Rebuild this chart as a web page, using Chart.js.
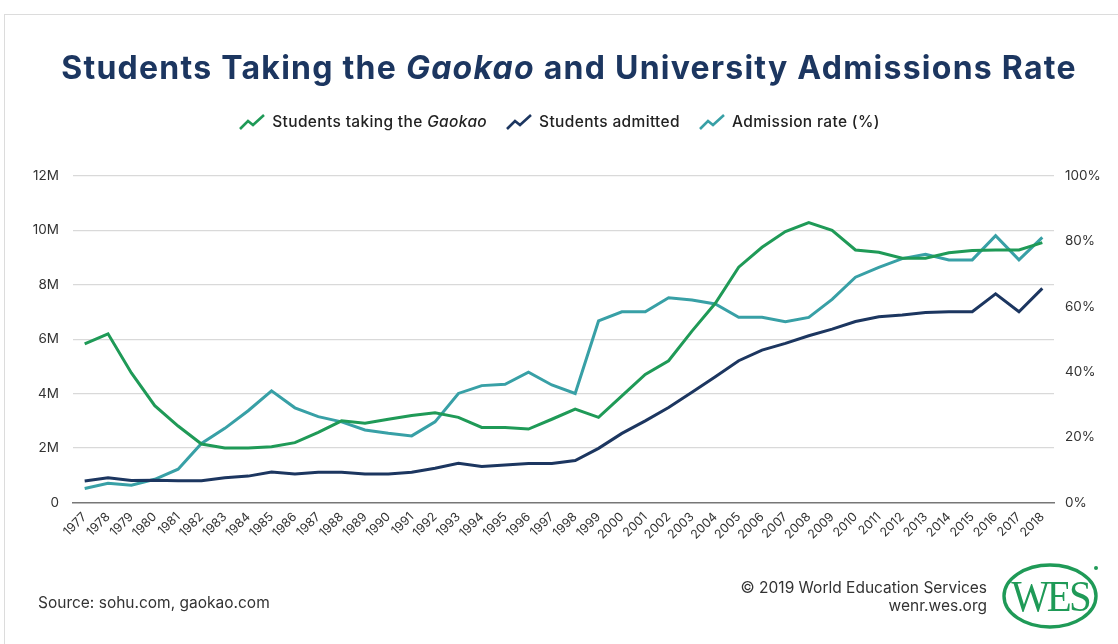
<!DOCTYPE html>
<html><head><meta charset="utf-8">
<script src="https://cdn.jsdelivr.net/npm/chart.js@4.4.1/dist/chart.umd.min.js"></script>
<style>
html,body{margin:0;padding:0;}
body{width:1118px;height:644px;background:#fff;position:relative;overflow:hidden;font-family:Inter,"Noto Sans",sans-serif;}
#frame{position:absolute;left:4px;top:14px;width:1200px;height:700px;border-left:1px solid #dcdcdc;border-top:1px solid #dcdcdc;}
#cv{position:absolute;left:0;top:0;}
#title{position:absolute;top:48px;left:10px;width:1118px;text-align:center;font-weight:700;font-size:32px;color:#1c3660;white-space:nowrap;letter-spacing:1.25px;}
#legend{position:absolute;top:112px;left:0;width:1118px;display:flex;justify-content:center;align-items:center;font-size:15.5px;font-weight:500;color:#222;white-space:nowrap;letter-spacing:0.35px;}
#legend .it{display:flex;align-items:center;margin:0 9px;}
#legend svg{margin-right:6px;}
.foot{position:absolute;font-size:15.5px;color:#333;white-space:nowrap;}
</style></head>
<body>
<div id="frame"></div>
<canvas id="cv" width="1118" height="644"></canvas>
<div id="title">Students Taking the <i>Gaokao</i> and University Admissions Rate</div>
<div id="legend"></div>
<div class="foot" style="left:38px;top:593px;">Source: sohu.com, gaokao.com</div>
<div class="foot" style="right:131px;top:579px;text-align:right;line-height:18px;">© 2019 World Education Services<br>wenr.wes.org</div>
<svg style="position:absolute;left:1000px;top:562px;" width="104" height="68" viewBox="0 0 104 68">
  <ellipse cx="50" cy="34" rx="46" ry="31" fill="none" stroke="#1f9a57" stroke-width="3.4"/>
  <text x="50" y="49" text-anchor="middle" font-family="Liberation Serif, DejaVu Serif, serif" font-size="43" fill="#1f9a57" letter-spacing="-3" transform="translate(50 0) scale(0.95 1.05) translate(-50 -2)">WES</text>
  <circle cx="96" cy="6" r="2" fill="#1f9a57"/>
</svg>
<script>
const years = ['1977','1978','1979','1980','1981','1982','1983','1984','1985','1986','1987','1988','1989','1990','1991','1992','1993','1994','1995','1996','1997','1998','1999','2000','2001','2002','2003','2004','2005','2006','2007','2008','2009','2010','2011','2012','2013','2014','2015','2016','2017','2018'];
// millions
const takingGaokao = [5.83,6.2,4.76,3.56,2.81,2.15,2.0,2.0,2.05,2.2,2.58,3.0,2.91,3.06,3.2,3.3,3.13,2.76,2.76,2.7,3.06,3.43,3.13,3.92,4.71,5.21,6.3,7.32,8.65,9.38,9.96,10.29,10.0,9.28,9.2,8.98,8.98,9.18,9.26,9.28,9.28,9.55];
const studentsAdmitted = [0.79,0.91,0.81,0.82,0.8,0.8,0.91,0.97,1.12,1.05,1.11,1.11,1.05,1.05,1.11,1.26,1.44,1.32,1.38,1.43,1.43,1.54,1.99,2.54,3.0,3.49,4.05,4.62,5.21,5.6,5.85,6.13,6.37,6.65,6.83,6.89,6.98,7.01,7.01,7.67,7.01,7.87];
// percent
const admissionRate = [4.3,5.9,5.3,7.1,10.2,18.1,22.7,28.1,34.2,29.0,26.3,24.7,22.2,21.2,20.4,24.7,33.4,35.8,36.2,39.9,36.0,33.4,55.6,58.4,58.4,62.7,62.0,60.8,56.7,56.7,55.4,56.7,62.2,69.0,72.0,74.7,76.0,74.3,74.3,81.7,74.3,81.2];
const leftTicks = [0,2,4,6,8,10,12];
const rightTicks = [0,20,40,60,80,100];

const GREEN='#1f9a57', NAVY='#1c3660', TEAL='#38a0a6';

const legendItems = [
  {c:GREEN, html:'Students taking the <i>Gaokao</i>'},
  {c:NAVY, html:'Students admitted'},
  {c:TEAL, html:'Admission rate (%)'}
];
document.getElementById('legend').innerHTML = legendItems.map(it =>
  `<span class="it"><svg width="28" height="18" viewBox="0 0 28 18"><polyline points="2,16 10,8 15,12 26,2" fill="none" stroke="${it.c}" stroke-width="2.6" stroke-linejoin="miter"/></svg><span>${it.html}</span></span>`
).join('');

const tickFont = {family:'Inter, "Noto Sans", sans-serif', size:13.5};
new Chart(document.getElementById('cv'), {
  type:'line',
  data:{
    labels: years,
    datasets:[
      {label:'Students taking the Gaokao', data: takingGaokao.map(v=>v*1e6), borderColor:GREEN, yAxisID:'y', borderWidth:3, pointRadius:0, tension:0},
      {label:'Students admitted', data: studentsAdmitted.map(v=>v*1e6), borderColor:NAVY, yAxisID:'y', borderWidth:3, pointRadius:0, tension:0},
      {label:'Admission rate (%)', data: admissionRate, borderColor:TEAL, yAxisID:'y1', borderWidth:3, pointRadius:0, tension:0}
    ]
  },
  options:{
    responsive:false, animation:false,
    layout:{padding:{top:176, bottom:91.5, left:0, right:0}},
    plugins:{legend:{display:false}, tooltip:{enabled:false}},
    scales:{
      x:{
        offset:true,
        grid:{display:false, drawTicks:false},
        border:{display:true, color:'#777', width:1.5},
        ticks:{maxRotation:45, minRotation:45, autoSkip:false, color:'#333', padding:7, font:{family:tickFont.family, size:12.5}},
        afterFit(s){ s.height = 50; }
      },
      y:{
        position:'left', min:0, max:12e6,
        afterBuildTicks(s){ s.ticks = leftTicks.map(v=>({value:v*1e6})); },
        ticks:{color:'#333', padding:14, font:tickFont, callback:v => v===0 ? '0' : (v/1e6)+'M'},
        grid:{color:ctx => ctx.tick && ctx.tick.value===0 ? 'rgba(0,0,0,0)' : '#d9d9d9', lineWidth:1.2, drawTicks:false},
        border:{display:false},
        afterFit(s){ s.width = 73; }
      },
      y1:{
        position:'right', min:0, max:100,
        afterBuildTicks(s){ s.ticks = rightTicks.map(v=>({value:v})); },
        ticks:{color:'#333', padding:11, font:tickFont, callback:v => v+'%'},
        grid:{drawOnChartArea:false, drawTicks:false},
        border:{display:false},
        afterFit(s){ s.width = 64; }
      }
    }
  }
});
</script>
</body></html>
